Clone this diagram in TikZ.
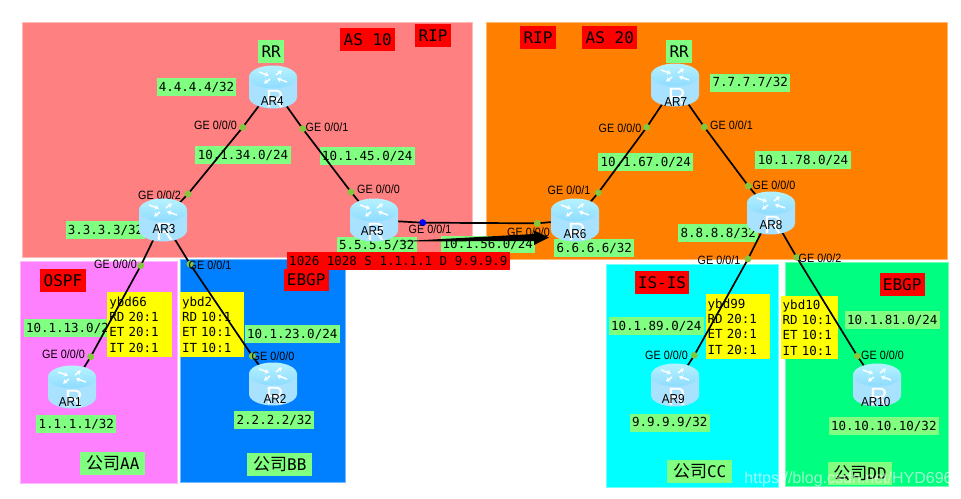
\documentclass[tikz,border=0pt]{standalone}
\usepackage{fontspec}
\setmainfont{Liberation Sans}
\newfontfamily\monof{DejaVu Sans Mono}
\newfontfamily\cjkf{Noto Sans CJK SC}
\newfontfamily\portf[FakeStretch=0.9]{Liberation Sans}
\usetikzlibrary{arrows.meta,calc}
\definecolor{lblgreen}{HTML}{80FF80}
\definecolor{lblred}{HTML}{FF0000}
\definecolor{lblyellow}{HTML}{FFFF00}
\definecolor{dotgreen}{HTML}{84C63C}
\definecolor{regA}{HTML}{FF8080}
\definecolor{regB}{HTML}{FF8000}
\definecolor{regC}{HTML}{FF80FF}
\definecolor{regD}{HTML}{0080FF}
\definecolor{regE}{HTML}{00FFFF}
\definecolor{regF}{HTML}{00FF80}
\definecolor{rbodyA}{HTML}{A8E2FF}
\definecolor{rbodyB}{HTML}{74C4F6}
\definecolor{rtopA}{HTML}{B6F2FF}
\definecolor{rtopB}{HTML}{8EDCFF}
\newcommand\bx[7]{%
  \pgfmathsetmacro\bxw{#5-#3}\pgfmathsetmacro\bxh{#6-#4}%
  \node[#1,minimum width=\bxw pt,minimum height=\bxh pt] (#2) at ({(#3+#5)/2},{(#4+#6)/2}) {#7};}
\newcommand\yb[6]{%
  \pgfmathsetmacro\bxw{#4-#2}\pgfmathsetmacro\bxh{#5-#3}\pgfmathsetmacro\bxt{#4-#2-4}%
  \node[yellowlab,text width=\bxt pt,inner xsep=2pt,minimum height=\bxh pt] (#1) at ({(#2+#4)/2},{(#3+#5)/2}) {#6};}
\newcommand\cn[2]{{\fontsize{17}{17}\cjkf 公司}{\fontsize{16}{16}\monof #2}}
\tikzset{
  boxbase/.style={inner sep=0pt,outer sep=0pt,text=black},
  region/.style={boxbase,draw=#1!55!white,fill=#1,line width=0.8pt},
  netlab/.style={boxbase,fill=lblgreen,font=\fontsize{12.5}{15}\monof},
  biglab/.style={boxbase,fill=lblgreen,font=\fontsize{16}{16}\monof},
  redlab/.style={boxbase,fill=lblred,font=\fontsize{16}{16}\monof},
  redsmall/.style={boxbase,fill=lblred,font=\fontsize{12.5}{15}\monof},
  yellowlab/.style={boxbase,fill=lblyellow,align=left,font=\fontsize{12.5}{15.4}\monof},
  portlab/.style={inner sep=0pt,font=\fontsize{12}{12}\portf},
  arlab/.style={inner sep=0pt,font=\fontsize{13}{13}\portf},
  portdot/.style={circle,inner sep=0pt,minimum size=6.5pt,fill=dotgreen},
  bluedot/.style={circle,inner sep=0pt,minimum size=6.5pt,fill=blue},
  routerspot/.style={inner sep=0pt,minimum width=48pt,minimum height=43pt},
  link/.style={black,line width=1.7pt,line join=round},
  routerpic/.pic={
    \path[left color=rbodyA,middle color=rbodyB,right color=rbodyA]
      (-24,-10) -- (-24,10) .. controls (-24,16.5) and (-13,21.5) .. (0,21.5)
      .. controls (13,21.5) and (24,16.5) .. (24,10) -- (24,-10) -- cycle;
    \begin{scope}
      \clip (-24,-10) -- (-24,10) .. controls (-24,16.5) and (-13,21.5) .. (0,21.5)
      .. controls (13,21.5) and (24,16.5) .. (24,10) -- (24,-10) -- cycle;
      \node[inner sep=0pt,text=white,font=\fontsize{25}{25}\selectfont] at (2,12) {R};
    \end{scope}
    \path[top color=rtopA,bottom color=rtopB] (0,-10) ellipse [x radius=24pt,y radius=11.5pt];
    \foreach \ax/\ay/\bbx/\bby in {-14/-15/-4/-11.5, 14/-5/4/-8.5, -3/-8/-9/-3.5, 3/-12/9/-16.5}
      \draw[white,line width=1.5pt,-{Stealth[length=4pt,width=5pt]}] (\ax,\ay) -- (\bbx,\bby);
  }
}
\begin{document}
\begin{tikzpicture}[x=1pt,y=-1pt]
\useasboundingbox (0,0) rectangle (961,498);
% router positions
\foreach \n/\x/\y in {ar1/72/387,ar2/273/384,ar3/163/220,ar4/273/87,ar5/374/220,ar6/575/220,ar7/675/85,ar8/771/213,ar9/675/385,ar10/877/385}
  \node[routerspot] (\n) at (\x,\y) {};
% regions
\bx{region=regA}{rgnA}{22.5}{22}{472}{257}{}
\bx{region=regB}{rgnB}{486}{22}{947}{259}{}
\bx{region=regC}{rgnC}{20}{261}{177.5}{483}{}
\bx{region=regD}{rgnD}{180}{259}{345.7}{482}{}
\bx{region=regE}{rgnE}{606.7}{264}{778}{487}{}
\bx{region=regF}{rgnF}{785.7}{262.5}{948}{486.5}{}
% green labels
\bx{biglab}{rrA}{258.3}{40.3}{284}{62.7}{RR}
\bx{netlab}{lo4}{156.7}{78.3}{236.3}{95.7}{4.4.4.4/32}
\bx{netlab}{n34}{195.3}{146.3}{290.7}{163.7}{10.1.34.0/24}
\bx{netlab}{n45}{319.7}{147.3}{414.7}{164.7}{10.1.45.0/24}
\bx{netlab}{lo3}{65.7}{221.3}{145.3}{238.7}{3.3.3.3/32}
\bx{netlab}{lo5}{336.7}{237}{416.7}{254.3}{5.5.5.5/32}
\bx{netlab}{n56}{440.7}{235.7}{535}{252.7}{10.1.56.0/24}
\bx{netlab}{lo6}{554.3}{239.3}{634.3}{256.7}{6.6.6.6/32}
\bx{biglab}{rrB}{666.3}{40.3}{692}{62.7}{RR}
\bx{netlab}{lo7}{710.3}{74}{790.3}{91.7}{7.7.7.7/32}
\bx{netlab}{n67}{598.3}{153.3}{693.3}{171}{10.1.67.0/24}
\bx{netlab}{n78}{755.3}{151.3}{850.7}{168.7}{10.1.78.0/24}
\bx{netlab}{lo8}{678.3}{224.3}{758.3}{241.7}{8.8.8.8/32}
\bx{netlab}{n13}{23.7}{319.3}{118.7}{337}{10.1.13.0/24}
\bx{netlab}{n23}{244.7}{325.3}{339.7}{343}{10.1.23.0/24}
\bx{netlab}{lo1}{36.3}{415.3}{116.3}{433}{1.1.1.1/32}
\bx{netlab}{lo2}{234.3}{411.3}{314.3}{429}{2.2.2.2/32}
\bx{netlab}{n89}{608.7}{317.3}{703.7}{335}{10.1.89.0/24}
\bx{netlab}{n81}{844.7}{311.3}{940}{329}{10.1.81.0/24}
\bx{netlab}{lo9}{629.7}{414}{709.7}{431.7}{9.9.9.9/32}
\bx{netlab}{lo10}{828.7}{417.3}{939}{435}{10.10.10.10/32}
\bx{biglab}{coA}{80.3}{452}{145.3}{475}{\cn{}{AA}}
\bx{biglab}{coB}{247.3}{453.3}{312.3}{476}{\cn{}{BB}}
\bx{biglab}{coC}{667.3}{460.3}{732}{483}{\cn{}{CC}}
\bx{biglab}{coD}{827.7}{462.3}{892.3}{485}{\cn{}{DD}}
% yellow labels
\yb{yA}{107.3}{292.3}{172.3}{356.7}{ybd66\\RD 20:1\\ET 20:1\\IT 20:1}
\yb{yB}{180}{292.3}{244.3}{356.7}{ybd2\\RD 10:1\\ET 10:1\\IT 10:1}
\yb{yC}{705.7}{294.3}{770.3}{358.7}{ybd99\\RD 20:1\\ET 20:1\\IT 20:1}
\yb{yD}{780.7}{295.7}{837.7}{359.3}{ybd10\\RD 10:1\\ET 10:1\\IT 10:1}
% port dots
\node[portdot] (p4a) at (242.7,127.3) {};
\node[portdot] (p4b) at (302.7,128.7) {};
\node[portdot] (p3a) at (188,194) {};
\node[portdot] (p5a) at (351,192) {};
\node[bluedot] (p5b) at (422.7,222.7) {};
\node[portdot] (p6a) at (537.3,223.3) {};
\node[portdot] (p6b) at (598.3,192.7) {};
\node[portdot] (p7a) at (646.7,127.3) {};
\node[portdot] (p7b) at (704.3,127) {};
\node[portdot] (p8a) at (748.3,186) {};
\node[portdot] (p8b) at (748,259) {};
\node[portdot] (p8c) at (796.7,257.3) {};
\node[portdot] (p9) at (694.3,355.3) {};
\node[portdot] (p10) at (857.3,356) {};
\node[portdot] (p3b) at (140.7,265.7) {};
\node[portdot] (p3c) at (190,264) {};
\node[portdot] (p1) at (90.7,356.7) {};
\node[portdot] (p2) at (252.3,356) {};
% links
\draw[link] (ar4.center) -- (p4a.center) -- (p3a.center) -- (ar3.center);
\draw[link] (ar4.center) -- (p4b.center) -- (p5a.center) -- (ar5.center);
\draw[link] (ar3.center) -- (p3b.center) -- (p1.center) -- (ar1.center);
\draw[link] (ar3.center) -- (p3c.center) -- (p2.center) -- (ar2.center);
\draw[link] (ar5.center) -- (p5b.center) -- (p6a.center) -- (ar6.center);
\draw[link] (ar7.center) -- (p7a.center) -- (p6b.center) -- (ar6.center);
\draw[link] (ar7.center) -- (p7b.center) -- (p8a.center) -- (ar8.center);
\draw[link] (ar8.center) -- (p8b.center) -- (p9.center) -- (ar9.center);
\draw[link] (ar8.center) -- (p8c.center) -- (p10.center) -- (ar10.center);
% dots above the links
\foreach \p in {p4a,p4b,p3a,p5a,p6a,p6b,p7a,p7b,p8a,p8b,p8c,p9,p10,p3b,p3c,p1,p2}
  \fill[dotgreen] (\p.center) circle [radius=3.4pt];
\fill[blue] (p5b.center) circle [radius=3.4pt];
% port labels
\node[portlab] (t4a) at (215.5,125) {GE 0/0/0};
\node[portlab] (t4b) at (327,127) {GE 0/0/1};
\node[portlab] (t3a) at (159.5,195) {GE 0/0/2};
\node[portlab] (t5a) at (378.5,189) {GE 0/0/0};
\node[portlab] (t5b) at (430,229) {GE 0/0/1};
\node[portlab] (t6a) at (528.5,232) {GE 0/0/0};
\node[portlab] (t6b) at (569,190) {GE 0/0/1};
\node[portlab] (t7a) at (620,128) {GE 0/0/0};
\node[portlab] (t7b) at (731.5,125) {GE 0/0/1};
\node[portlab] (t8a) at (774,185) {GE 0/0/0};
\node[portlab] (t8b) at (719,260) {GE 0/0/1};
\node[portlab] (t8c) at (820,258) {GE 0/0/2};
\node[portlab] (t9) at (666.5,355) {GE 0/0/0};
\node[portlab] (t10) at (882.5,355) {GE 0/0/0};
\node[portlab] (t3b) at (115.5,264) {GE 0/0/0};
\node[portlab] (t3c) at (210,265) {GE 0/0/1};
\node[portlab] (t1) at (63.5,354) {GE 0/0/0};
\node[portlab] (t2) at (273,356.7) {GE 0/0/0};
% routers
\foreach \n in {ar1,ar2,ar3,ar4,ar5,ar6,ar7,ar8,ar9,ar10}
  \pic at (\n.center) {routerpic};
\node[arlab] (t-ar4) at (272.3,100.7) {AR4};
\node[arlab] (t-ar3) at (164,229) {AR3};
\node[arlab] (t-ar5) at (372.3,230.7) {AR5};
\node[arlab] (t-ar7) at (675.7,101.7) {AR7};
\node[arlab] (t-ar6) at (575,234) {AR6};
\node[arlab] (t-ar8) at (771,225) {AR8};
\node[arlab] (t-ar1) at (70.3,402.3) {AR1};
\node[arlab] (t-ar2) at (275,399) {AR2};
\node[arlab] (t-ar9) at (673.3,399) {AR9};
\node[arlab] (t-ar10) at (875.7,402.3) {AR10};
% traffic arrow
\coordinate (arrS) at (396,241.5);
\coordinate (arrE) at (549,237.5);
\fill[black] (arrS) -- ($(arrE)+(-15,-3.5)$) -- ($(arrE)+(-15,-7)$) -- (arrE) -- ($(arrE)+(-15,7.5)$) -- ($(arrE)+(-15,3.5)$) -- cycle;
% red labels
\bx{redlab}{as10}{340.3}{28.3}{395.3}{50.7}{AS 10}
\bx{redlab}{ripA}{415.3}{24.3}{450.7}{46.7}{RIP}
\bx{redlab}{ripB}{520.3}{26.3}{555.7}{48.7}{RIP}
\bx{redlab}{as20}{582.3}{26.3}{637.3}{48.7}{AS 20}
\bx{redlab}{ospf}{40.3}{269.3}{85.7}{291.7}{OSPF}
\bx{redlab}{ebgpA}{283.7}{268.7}{328.7}{291}{EBGP}
\bx{redlab}{isis}{634.7}{271.3}{689.3}{293.7}{IS-IS}
\bx{redlab}{ebgpB}{879.7}{273.3}{924.7}{295.7}{EBGP}
\bx{redsmall}{flow}{286.7}{252.3}{510}{270}{1026 1028 S 1.1.1.1 D 9.9.9.9}
% watermark
\node[inner sep=0pt,text=white,text opacity=.6,font=\fontsize{16}{16}\selectfont] (wm) at (848.5,479) {https://blog.csdn.net/HYD696};
\end{tikzpicture}
\end{document}
